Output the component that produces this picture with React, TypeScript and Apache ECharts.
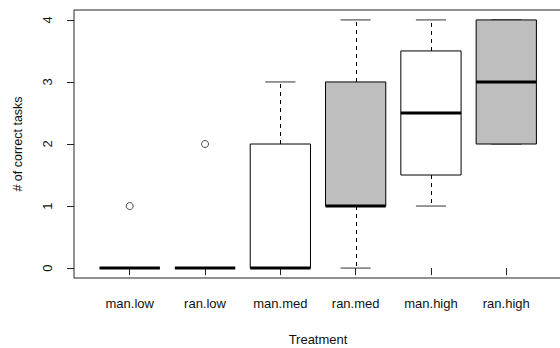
import React, { useEffect, useRef } from "react";
import * as echarts from "echarts";

const categories = ["man.low", "ran.low", "man.med", "ran.med", "man.high", "ran.high"];
// [min, q1, median, q3, max]
const boxStats = [
  [0, 0, 0, 0, 0],
  [0, 0, 0, 0, 0],
  [0, 0, 0, 2, 3],
  [0, 1, 1, 3, 4],
  [1, 1.5, 2.5, 3.5, 4],
  [2, 2, 3, 4, 4],
];
// [category position (1-based), value]
const outliers = [
  [1, 1],
  [2, 2],
];
const yTicks = [0, 1, 2, 3, 4];
const xTicks = [1, 2, 3, 4, 5, 6];

const boxFill = ["#ffffff", "#bebebe", "#ffffff", "#bebebe", "#ffffff", "#bebebe"];
const FONT = "Liberation Sans, Arial, Helvetica, sans-serif";

export default function App() {
  const ref = useRef<HTMLDivElement>(null);
  useEffect(() => {
    document.body.style.margin = "0";
    const chart = echarts.init(ref.current!, null, { renderer: "svg" });
    const boxData = boxStats.map((s, i) => [i + 1, ...s]);
    chart.setOption({
      animation: false,
      backgroundColor: "#ffffff",
      textStyle: { fontFamily: FONT },
      grid: {
        left: 74,
        top: 10,
        width: 488,
        height: 268,
        show: true,
        borderColor: "#222",
        borderWidth: 1,
        outerBoundsMode: "none",
      },
      xAxis: {
        type: "value",
        min: 0.26,
        max: 6.74,
        splitLine: { show: false },
        axisLine: { show: false },
        axisTick: {
          show: true,
          customValues: xTicks,
          length: 7,
          lineStyle: { color: "#222" },
        },
        axisLabel: {
          customValues: xTicks,
          formatter: (v: number) => categories[Math.round(v) - 1] ?? "",
          margin: 19,
          fontSize: 13,
          color: "#111",
          fontFamily: FONT,
        },
        name: "Treatment",
        nameLocation: "middle",
        nameGap: 55,
        nameTextStyle: { fontSize: 13, color: "#111", fontFamily: FONT },
      },
      yAxis: {
        type: "value",
        min: -0.16,
        max: 4.16,
        splitLine: { show: false },
        axisLine: { show: false },
        axisTick: {
          show: true,
          customValues: yTicks,
          length: 7,
          lineStyle: { color: "#222" },
        },
        axisLabel: {
          customValues: yTicks,
          rotate: 90,
          margin: 20,
          fontSize: 13,
          color: "#111",
          fontFamily: FONT,
        },
        name: "# of correct tasks",
        nameLocation: "middle",
        nameGap: 50,
        nameRotate: 90,
        nameTextStyle: { fontSize: 12.5, color: "#111", fontFamily: FONT },
      },
      series: [
        {
          type: "custom",
          data: boxData,
          encode: { x: 0, y: [1, 2, 3, 4, 5] },
          renderItem: (params: any, api: any) => {
            const x = api.value(0);
            const mn = api.value(1);
            const q1 = api.value(2);
            const md = api.value(3);
            const q3 = api.value(4);
            const mx = api.value(5);
            const halfW = 0.4;
            const capW = 0.2;
            const pMin = api.coord([x, mn]);
            const pQ1 = api.coord([x, q1]);
            const pMd = api.coord([x, md]);
            const pQ3 = api.coord([x, q3]);
            const pMax = api.coord([x, mx]);
            const left = api.coord([x - halfW, md])[0];
            const right = api.coord([x + halfW, md])[0];
            const capL = api.coord([x - capW, md])[0];
            const capR = api.coord([x + capW, md])[0];
            const cx = Math.round(pMd[0]) + 0.5;
            const fill = boxFill[params.dataIndex];
            const children: any[] = [
              {
                type: "line",
                shape: { x1: cx, y1: pQ3[1], x2: cx, y2: pMax[1] },
                style: { stroke: "#000", lineWidth: 1, lineDash: [4, 4] },
              },
              {
                type: "line",
                shape: { x1: cx, y1: pQ1[1], x2: cx, y2: pMin[1] },
                style: { stroke: "#000", lineWidth: 1, lineDash: [4, 4] },
              },
              {
                type: "line",
                shape: { x1: capL, y1: pMax[1], x2: capR, y2: pMax[1] },
                style: { stroke: "#333", lineWidth: 1 },
              },
              {
                type: "line",
                shape: { x1: capL, y1: pMin[1], x2: capR, y2: pMin[1] },
                style: { stroke: "#333", lineWidth: 1 },
              },
              {
                type: "rect",
                shape: { x: left, y: pQ3[1], width: right - left, height: pQ1[1] - pQ3[1] },
                style: { fill, stroke: "#000", lineWidth: 1 },
              },
              {
                type: "line",
                shape: { x1: left, y1: pMd[1], x2: right, y2: pMd[1] },
                style: { stroke: "#000", lineWidth: 3 },
              },
            ];
            return { type: "group", children };
          },
        },
        {
          type: "scatter",
          data: outliers,
          symbol: "circle",
          symbolSize: 7,
          itemStyle: { color: "#fff", borderColor: "#222", borderWidth: 1 },
        },
      ],
    });
    return () => chart.dispose();
  }, []);
  return (
    <div
      ref={ref}
      style={{ position: "absolute", left: 0, top: 0, width: 560, height: 348 }}
    />
  );
}
